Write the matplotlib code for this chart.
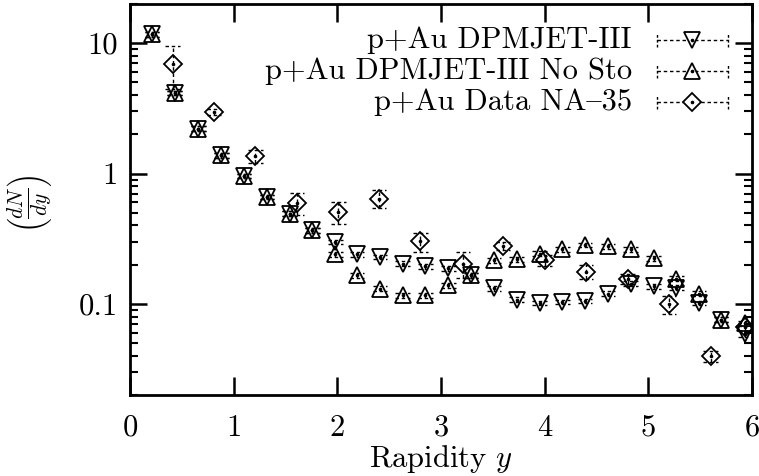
import matplotlib
matplotlib.use("Agg")
import matplotlib.pyplot as plt
from matplotlib.ticker import FixedLocator, FixedFormatter, LogLocator, NullFormatter

plt.rcParams['font.family'] = ['cmr10', 'DejaVu Serif']
plt.rcParams['mathtext.fontset'] = 'cm'
plt.rcParams['axes.unicode_minus'] = False

# rapidity bins for the two DPMJET runs
y_dpm = [0.21, 0.43, 0.66, 0.88, 1.10, 1.32, 1.54, 1.76, 1.98, 2.19, 2.41, 2.63, 2.85,
         3.07, 3.29, 3.51, 3.73, 3.95, 4.17, 4.39, 4.61, 4.83, 5.05, 5.27, 5.49, 5.70, 5.93]

dndy_dpm = [11.7, 4.16, 2.21, 1.38, 0.96, 0.662, 0.493, 0.367, 0.298, 0.240, 0.229, 0.204, 0.194,
            0.187, 0.166, 0.132, 0.108, 0.102, 0.104, 0.105, 0.120, 0.143, 0.136, 0.133, 0.102, 0.0757, 0.059]
err_dpm = [0.45, 0.17, 0.09, 0.055, 0.04, 0.026, 0.02, 0.015, 0.012, 0.01, 0.009, 0.008, 0.008,
           0.008, 0.007, 0.006, 0.005, 0.004, 0.004, 0.004, 0.005, 0.006, 0.006, 0.006, 0.004, 0.003, 0.003]

dndy_nosto = [11.7, 4.16, 2.21, 1.38, 0.96, 0.662, 0.493, 0.367, 0.240, 0.166, 0.131, 0.116, 0.116,
              0.139, 0.166, 0.216, 0.220, 0.243, 0.262, 0.282, 0.277, 0.262, 0.223, 0.156, 0.120, 0.0757, 0.071]
err_nosto = [0.45, 0.17, 0.09, 0.055, 0.04, 0.026, 0.02, 0.015, 0.01, 0.007, 0.006, 0.005, 0.005,
             0.006, 0.007, 0.009, 0.009, 0.01, 0.01, 0.011, 0.011, 0.01, 0.009, 0.007, 0.005, 0.003, 0.003]

# NA-35 data
y_na35 = [0.41, 0.81, 1.21, 1.61, 2.01, 2.40, 2.80, 3.21, 3.60, 4.00, 4.40, 4.80, 5.20, 5.60, 5.93]
dndy_na35 = [6.98, 2.97, 1.36, 0.594, 0.507, 0.643, 0.302, 0.204, 0.277, 0.216, 0.176, 0.156, 0.099, 0.0396, 0.0666]
err_na35 = [2.5, 0.15, 0.16, 0.11, 0.10, 0.10, 0.05, 0.045, 0.02, 0.02, 0.022, 0.015, 0.015, 0.004, 0.005]

labels = ['p+Au DPMJET-III', 'p+Au DPMJET-III No Sto', 'p+Au Data NA{35']  # '{' is the en dash in cmr10
markers = ['v', '^', 'D']
msizes = [12, 12, 9.5]

x_ticks = [0, 1, 2, 3, 4, 5, 6]
y_ticks = [0.1, 1, 10]
y_ticklabels = ['0.1', '1', '10']

fs = 22

fig = plt.figure(figsize=(7.59, 4.76), dpi=100)
ax = fig.add_axes([0.1713, 0.1702, 0.8195, 0.8214])
ax.set_yscale('log')
ax.set_xlim(0, 6)
ax.set_ylim(0.02, 20)

cap = 0.07
dash = (0, (2.5, 2))


def draw_series(x, y, err, marker, ms):
    lo = [v - e for v, e in zip(y, err)]
    hi = [v + e for v, e in zip(y, err)]
    ax.vlines(x, lo, hi, colors='k', linewidth=1.0, linestyles=[dash])
    ax.hlines(lo, [v - cap for v in x], [v + cap for v in x], colors='k', linewidth=1.0, linestyles=[dash])
    ax.hlines(hi, [v - cap for v in x], [v + cap for v in x], colors='k', linewidth=1.0, linestyles=[dash])
    ax.plot(x, y, ls='none', marker=marker, ms=ms, mfc='none', mec='k', mew=1.3)
    ax.plot(x, y, ls='none', marker='o', ms=1.6, color='k')


draw_series(y_dpm, dndy_dpm, err_dpm, markers[0], msizes[0])
draw_series(y_dpm, dndy_nosto, err_nosto, markers[1], msizes[1])
draw_series(y_na35, dndy_na35, err_na35, markers[2], msizes[2])

# gnuplot-like key, top right
key_y = [0.908, 0.829, 0.749]
for lab, m, ms, ky in zip(labels, markers, msizes, key_y):
    ax.text(0.807, ky, lab, transform=ax.transAxes, ha='right', va='center', fontsize=fs)
    ax.plot([0.847, 0.961], [ky, ky], transform=ax.transAxes, color='k', lw=1.0, ls=dash, clip_on=False)
    ax.plot([0.847, 0.847], [ky - 0.017, ky + 0.017], transform=ax.transAxes, color='k', lw=1.0, ls=(0, (2, 1.5)))
    ax.plot([0.961, 0.961], [ky - 0.017, ky + 0.017], transform=ax.transAxes, color='k', lw=1.0, ls=(0, (2, 1.5)))
    ax.plot([0.904], [ky], transform=ax.transAxes, marker=m, ms=ms, mfc='white', mec='k', mew=1.3)
    ax.plot([0.904], [ky], transform=ax.transAxes, marker='o', ms=1.6, color='k')

ax.xaxis.set_major_locator(FixedLocator(x_ticks))
ax.xaxis.set_major_formatter(FixedFormatter([str(t) for t in x_ticks]))
ax.yaxis.set_major_locator(FixedLocator(y_ticks))
ax.yaxis.set_major_formatter(FixedFormatter(y_ticklabels))
ax.yaxis.set_minor_locator(LogLocator(base=10, subs=range(2, 10)))
ax.yaxis.set_minor_formatter(NullFormatter())

ax.tick_params(which='both', direction='in', top=True, right=True, labelsize=fs, color='k')
ax.tick_params(axis='x', which='major', length=13, width=1.8, pad=14)
ax.tick_params(axis='y', which='major', length=12, width=1.8, pad=9)
ax.tick_params(axis='y', which='minor', length=6, width=1.5)
for s in ax.spines.values():
    s.set_linewidth(2.0)

ax.set_xlabel('Rapidity $y$', fontsize=fs, labelpad=1)
fig.text(0.04, 0.572, r'$\left(\frac{dN}{dy}\right)$', rotation=90, ha='center', va='center', fontsize=fs)

fig.savefig('out.png', dpi=100)
